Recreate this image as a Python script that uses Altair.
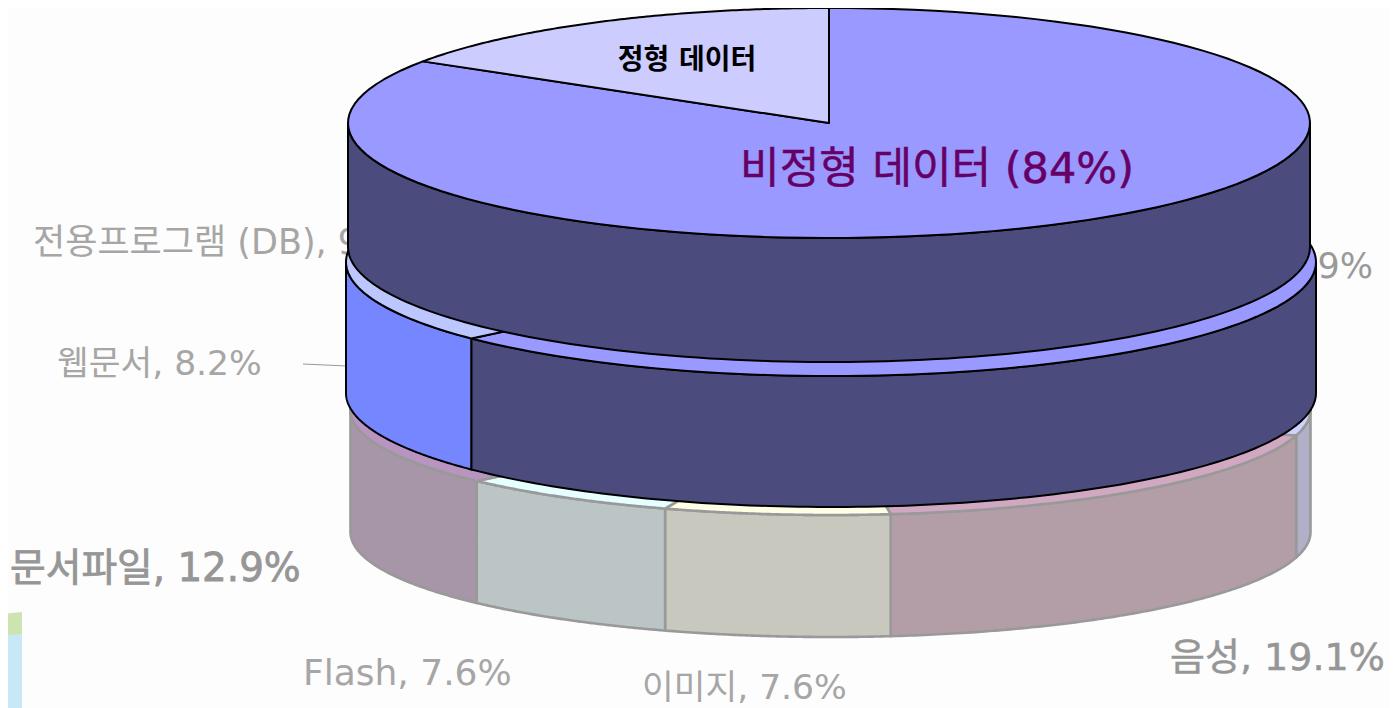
import numpy as np
import altair as alt

# --- data ---
bottom_names = ["기타", "음성", "이미지", "Flash", "문서파일", "나머지"]
bottom_shares = [28.9, 19.1, 7.6, 7.6, 12.9, 24.8]
bottom_wall = ["#b0b1c8", "#b39ea8", "#c8c8bf", "#bcc5c6", "#a796a8", "#a796a8"]
bottom_face = ["#d0d0ff", "#d0a8c2", "#ffffe6", "#e6ffff", "#b994c0", "#b994c0"]

middle_names = ["비정형", "웹문서"]
middle_shares = [63.3, 36.7]
middle_wall = ["#4b4b7d", "#7586ff"]
middle_face = ["#9999ff", "#bcc6ff"]

top_names = ["비정형 데이터", "정형 데이터"]
top_shares = [84, 16]
top_wall = ["#4b4b7d", "#4b4b7d"]
top_face = ["#9999ff", "#ccccff"]

back_labels = ["전용프로그램 (DB), 9", "9%", "웹문서, 8.2%", "문서파일, 12.9%", "Flash, 7.6%", "이미지, 7.6%", "음성, 19.1%"]

FONT = "DejaVu Sans, Noto Sans CJK KR, sans-serif"
W, H = 1397, 708
M = 8


def poly(pts, fill, stroke, sw):
    pts = [[float(a), float(b)] for a, b in pts]
    if pts[0] != pts[-1]:
        pts.append(pts[0])
    return {"type": "Feature", "properties": {"fill": fill, "stroke": stroke, "sw": sw},
            "geometry": {"type": "Polygon", "coordinates": [pts]}}


def arc(cx, cy, rx, ry, a0, a1, n=120):
    t = np.radians(np.linspace(a0, a1, n))
    return list(zip(cx + rx * np.sin(t), cy - ry * np.cos(t)))


def disc(cx, cy, rx, ry, h, shares, walls, faces, stroke, sw):
    edges = np.concatenate([[0], np.cumsum(shares)]) * 3.6
    out = []
    # walls, visible on the front half only
    for a0, a1, w in zip(edges[:-1], edges[1:], walls):
        lo, hi = max(a0, 90), min(a1, 270)
        if lo >= hi:
            continue
        up = arc(cx, cy, rx, ry, lo, hi)
        down = [(x, y + h) for x, y in up][::-1]
        out.append(poly(up + down, w, stroke, sw))
    # top faces
    for a0, a1, f in zip(edges[:-1], edges[1:], faces):
        out.append(poly([(cx, cy)] + arc(cx, cy, rx, ry, a0, a1), f, stroke, sw))
    return out


PROJ = dict(type="identity", scale=1, translate=[-M, -M])


def shapes(features):
    return (alt.Chart(alt.Data(values=features)).mark_geoshape(strokeJoin="round")
            .encode(fill=alt.Fill("properties.fill:N", scale=None),
                    stroke=alt.Stroke("properties.stroke:N", scale=None),
                    strokeWidth=alt.StrokeWidth("properties.sw:Q", scale=None))
            .project(**PROJ))


def label(text, x, y, size, color, weight="normal", align="left", thick=0.0):
    return (alt.Chart(alt.Data(values=[{"t": text, "lon": x, "lat": y}]))
            .mark_text(font=FONT, fontSize=size, color=color, fontWeight=weight,
                       align=align, baseline="middle", stroke=color, strokeWidth=thick)
            .encode(longitude="lon:Q", latitude="lat:Q", text="t:N")
            .project(**PROJ))


# soft decoration at the lower-left corner
corner = [
    poly([(0, 615), (11, 613), (22, 612), (22, 708), (0, 708)], "#cde4b0", "none", 0),
    poly([(0, 637), (11, 635), (22, 634), (22, 708), (0, 708)], "#c8e8f8", "none", 0),
]
leader = [{"type": "Feature", "properties": {"fill": "transparent", "stroke": "#999999", "sw": 1},
           "geometry": {"type": "LineString", "coordinates": [[303, 364], [347, 366]]}}]

layers = [
    shapes(corner),
    label(back_labels[0], 33, 243, 35, "#a6a6a6"),
    label(back_labels[1], 1373, 267, 35, "#999999", align="right"),
    label(back_labels[2], 57, 365, 34.5, "#a6a6a6"),
    label(back_labels[3], 10, 569, 38.8, "#969696", thick=0.8),
    label(back_labels[4], 303, 674, 36, "#a6a6a6"),
    label(back_labels[5], 642, 689, 34.5, "#a6a6a6"),
    label(back_labels[6], 1170, 659, 38, "#969696", thick=0.5),
    shapes(disc(830.5, 410, 480, 105, 122, bottom_shares, bottom_wall, bottom_face, "#999999", 2.6)),
    shapes(leader),
    shapes(disc(831, 262, 485, 114, 131, middle_shares, middle_wall, middle_face, "#000000", 2)),
    shapes(disc(829, 123, 481, 115, 124, top_shares, top_wall, top_face, "#000000", 2)),
    label("정형 데이터", 687, 61, 28, "#000000", "bold", "center"),
    label("비정형 데이터 (84%)", 937, 170, 43, "#660066", "normal", "center", 0.5),
]

chart = alt.layer(*layers).properties(
    width=W - 2 * M, height=H - M, padding=0, autosize=alt.AutoSizeParams(type="none"),
    background="#fdfdfd",
).configure_view(stroke=None)

chart.save("out.html", embed_options={"renderer": "svg", "actions": False})
